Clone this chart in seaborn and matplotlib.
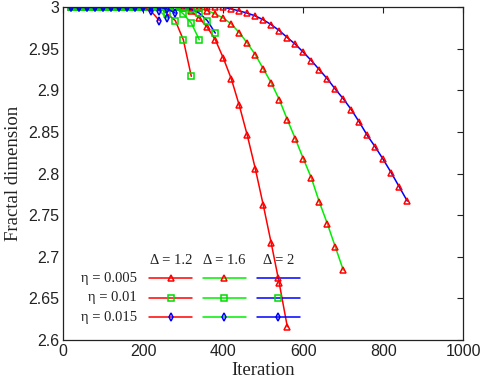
import numpy as np
import pandas as pd
import seaborn as sns
import matplotlib.pyplot as plt
from matplotlib.lines import Line2D
from matplotlib.ticker import FuncFormatter

# Fractal dimension vs iteration, sampled every 20 iterations
# eta = 0.005
fd_e005_d12 = [3.0, 3.0, 3.0, 3.0, 3.0, 3.0, 3.0, 3.0, 3.0, 3.0, 3.0, 3.0, 3.0, 3.0,
               2.999, 2.995, 2.987, 2.976, 2.961, 2.939, 2.914, 2.882, 2.846, 2.806,
               2.762, 2.716, 2.668, 2.616]
fd_e005_d16 = [3.0, 3.0, 3.0, 3.0, 3.0, 3.0, 3.0, 3.0, 3.0, 3.0, 3.0, 3.0, 3.0, 3.0,
               3.0, 3.0, 2.999, 2.996, 2.992, 2.987, 2.980, 2.9695, 2.957, 2.943,
               2.926, 2.909, 2.889, 2.865, 2.842, 2.818, 2.795, 2.766, 2.740, 2.712,
               2.684]
fd_e005_d2 = [3.0, 3.0, 3.0, 3.0, 3.0, 3.0, 3.0, 3.0, 3.0, 3.0, 3.0, 3.0, 3.0, 3.0,
              3.0, 3.0, 3.0, 3.0, 3.0, 3.0, 2.998, 2.9956, 2.993, 2.9896, 2.985,
              2.979, 2.972, 2.9636, 2.9556, 2.946, 2.936, 2.925, 2.914, 2.9016,
              2.890, 2.877, 2.862, 2.846, 2.832, 2.817, 2.801, 2.784, 2.767]
# eta = 0.01
fd_e01_d12 = [3.0, 3.0, 3.0, 3.0, 3.0, 3.0, 3.0, 3.0, 3.0, 3.0, 3.0, 3.0,
              2.992, 2.984, 2.961, 2.917]
fd_e01_d16 = [3.0, 3.0, 3.0, 3.0, 3.0, 3.0, 3.0, 3.0, 3.0, 3.0, 3.0, 3.0, 3.0, 3.0,
              2.992, 2.981, 2.961]
fd_e01_d2 = [3.0, 3.0, 3.0, 3.0, 3.0, 3.0, 3.0, 3.0, 3.0, 3.0, 3.0, 3.0, 3.0, 3.0,
             3.0, 2.9975, 2.993, 2.984, 2.969]
# eta = 0.015
fd_e015_d12 = [3.0, 3.0, 3.0, 3.0, 3.0, 3.0, 3.0, 3.0, 3.0, 3.0, 2.995, 2.984]
fd_e015_d16 = [3.0, 3.0, 3.0, 3.0, 3.0, 3.0, 3.0, 3.0, 3.0, 3.0, 3.0, 2.996, 2.987]
fd_e015_d2 = [3.0, 3.0, 3.0, 3.0, 3.0, 3.0, 3.0, 3.0, 3.0, 3.0, 3.0, 3.0, 2.998, 2.993]

ITER_STEP = 20
eta_labels = ["η = 0.005", "η = 0.01", "η = 0.015"]
delta_labels = ["Δ = 1.2", "Δ = 1.6", "Δ = 2"]
series = [
    [fd_e005_d12, fd_e005_d16, fd_e005_d2],
    [fd_e01_d12, fd_e01_d16, fd_e01_d2],
    [fd_e015_d12, fd_e015_d16, fd_e015_d2],
]

# styles: line colour by delta, marker by eta
line_colors = ["#ff0000", "#00ee00", "#0000ff"]
eta_markers = ["^", "s", "d"]
eta_marker_colors = ["#ff0000", "#00dd00", "#0000ff"]
eta_marker_sizes = [4.6, 3.8, 4.2]

sns.set_theme(style="white")
plt.rcParams['font.family'] = ['Liberation Sans', 'DejaVu Sans']
plt.rcParams['xtick.direction'] = 'in'
plt.rcParams['ytick.direction'] = 'in'

fig = plt.figure(figsize=(4.84, 3.89), dpi=100)
ax = fig.add_axes([0.1308, 0.126, 0.8264, 0.8553])

for i, row in enumerate(series):
    for j, vals in enumerate(row):
        df = pd.DataFrame({
            "iteration": np.arange(1, len(vals) + 1) * ITER_STEP,
            "fd": vals,
        })
        sns.lineplot(data=df, x="iteration", y="fd", ax=ax, color=line_colors[j],
                     linewidth=1.1, marker=eta_markers[i],
                     markersize=eta_marker_sizes[i], markerfacecolor="none",
                     markeredgecolor=eta_marker_colors[i], markeredgewidth=1.1,
                     legend=False, sort=False)

ax.set_xlim(0, 1000)
ax.set_ylim(2.6, 3.0)
ax.set_xticks(np.arange(0, 1001, 200))
ax.set_yticks(np.arange(2.6, 3.001, 0.05))
ax.yaxis.set_major_formatter(FuncFormatter(lambda v, p: f"{v:g}"))
ax.tick_params(axis="both", which="both", direction="in", top=True, right=True,
               length=4, width=0.8, labelsize=11.5, colors="#222222", pad=3)
for s in ax.spines.values():
    s.set_color("#222222")
    s.set_linewidth(0.9)

serif = ["Liberation Serif", "DejaVu Serif"]
ax.set_xlabel("Iteration", family=serif, fontsize=13.5, color="#222222", labelpad=2)
ax.set_ylabel("Fractal dimension", family=serif, fontsize=13.5, color="#222222",
              labelpad=4)

# table-style legend (rows: eta, columns: delta)
col_x0 = [0.2145, 0.349, 0.484]
col_w = 0.108
row_y = [0.1855, 0.127, 0.069]
for j, lab in enumerate(delta_labels):
    ax.text(col_x0[j] + col_w / 2, 0.238, lab, transform=ax.transAxes,
            ha="center", va="center", family=serif, fontsize=10.5, color="#222222")
for i, lab in enumerate(eta_labels):
    ax.text(0.1835, row_y[i], lab, transform=ax.transAxes, ha="right", va="center",
            family=serif, fontsize=10.5, color="#222222")
    for j in range(3):
        ax.add_line(Line2D([col_x0[j], col_x0[j] + col_w], [row_y[i], row_y[i]],
                           transform=ax.transAxes, color=line_colors[j], linewidth=1.1))
        ax.add_line(Line2D([col_x0[j] + col_w / 2], [row_y[i]], transform=ax.transAxes,
                           marker=eta_markers[i], markersize=eta_marker_sizes[i],
                           markerfacecolor="none", markeredgecolor=eta_marker_colors[i],
                           markeredgewidth=1.1, linestyle="none"))

fig.savefig("out.png", dpi=100)
